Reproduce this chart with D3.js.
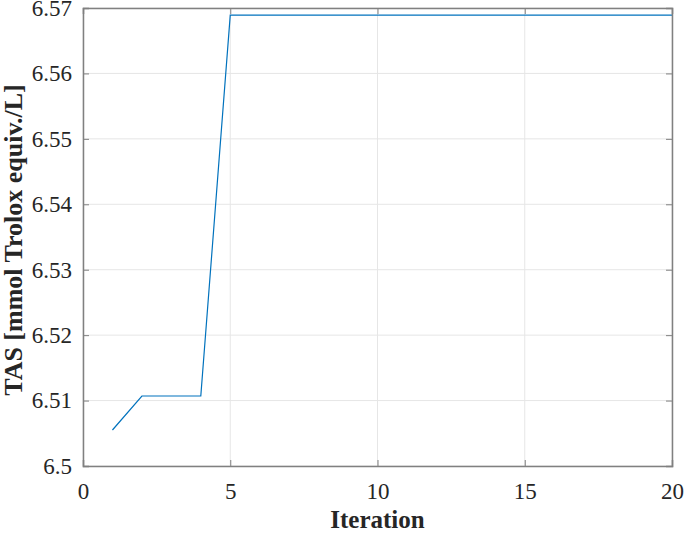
<!DOCTYPE html>
<html><head><meta charset="utf-8">
<script src="https://cdn.jsdelivr.net/npm/d3@7"></script>
<style>body{margin:0;background:#fff}svg{display:block}
svg text{font-family:'Liberation Serif','Times New Roman',serif !important;}</style>
</head><body>
<script>
const iterations = [1,2,3,4,5,6,7,8,9,10,11,12,13,14,15,16,17,18,19,20];
const tasValues = [6.5055,6.5107,6.5107,6.5107,6.5689,6.5689,6.5689,6.5689,6.5689,6.5689,6.5689,6.5689,6.5689,6.5689,6.5689,6.5689,6.5689,6.5689,6.5689,6.5689];
const xTicks = [0,5,10,15,20];
const yTicks = [6.5,6.51,6.52,6.53,6.54,6.55,6.56,6.57];
const xTitle = "Iteration";
const yTitle = "TAS [mmol Trolox equiv./L]";

const W=685,H=533;
const m={l:83,r:13,t:8,b:67};
const svg=d3.select("body").append("svg").attr("width",W).attr("height",H);
const x=d3.scaleLinear().domain([0,20]).range([m.l,W-m.r]);
const y=d3.scaleLinear().domain([6.5,6.57]).range([H-m.b,m.t]);
const font="'Liberation Serif','Times New Roman',serif";
const axisCol="#808080", gridCol="#e6e6e6";

// grid
svg.append("g").selectAll("line").data(xTicks).join("line")
 .attr("x1",d=>x(d)).attr("x2",d=>x(d)).attr("y1",y(6.5)).attr("y2",y(6.57))
 .attr("stroke",gridCol).attr("stroke-width",1);
svg.append("g").selectAll("line").data(yTicks).join("line")
 .attr("y1",d=>y(d)).attr("y2",d=>y(d)).attr("x1",x(0)).attr("x2",x(20))
 .attr("stroke",gridCol).attr("stroke-width",1);

// line
svg.append("path").datum(iterations.map((d,i)=>[d,tasValues[i]]))
 .attr("fill","none").attr("stroke","#0072BD").attr("stroke-width",1.2)
 .attr("d",d3.line().x(d=>x(d[0])).y(d=>y(d[1])));

// axes
function styleAxis(g){
 g.attr("font-family",null).attr("font-size",null);
 g.select(".domain").attr("stroke",axisCol).attr("stroke-width",1.5);
 g.selectAll(".tick line").attr("stroke",axisCol).attr("stroke-width",1);
 g.selectAll("text").style("font-family",font).style("font-size","23px").attr("fill","#262626");}
svg.append("g").attr("transform",`translate(0,${y(6.5)})`)
 .call(d3.axisBottom(x).tickValues(xTicks).tickSize(-6).tickPadding(17).tickFormat(d3.format("d")))
 .call(styleAxis);
svg.append("g").attr("transform",`translate(0,${y(6.57)})`)
 .call(d3.axisTop(x).tickValues(xTicks).tickSize(-6).tickFormat(""))
 .call(styleAxis);
svg.append("g").attr("transform",`translate(${x(20)},0)`)
 .call(d3.axisRight(y).tickValues(yTicks).tickSize(-6).tickFormat(""))
 .call(styleAxis);
svg.append("g").attr("transform",`translate(${x(0)},0)`)
 .call(d3.axisLeft(y).tickValues(yTicks).tickSize(-6).tickPadding(11).tickFormat(d=>String(+d.toFixed(2))))
 .call(styleAxis);

svg.append("text").attr("x",(x(0)+x(20))/2).attr("y",528).attr("text-anchor","middle")
 .style("font-family",font).attr("font-weight","bold").style("font-size","25px").attr("fill","#262626").text(xTitle);
svg.append("text").attr("transform",`translate(22,${(y(6.5)+y(6.57))/2+3}) rotate(-90)`).attr("text-anchor","middle")
 .style("font-family",font).attr("font-weight","bold").style("font-size","26px").attr("fill","#262626").text(yTitle);
</script>
</body></html>
